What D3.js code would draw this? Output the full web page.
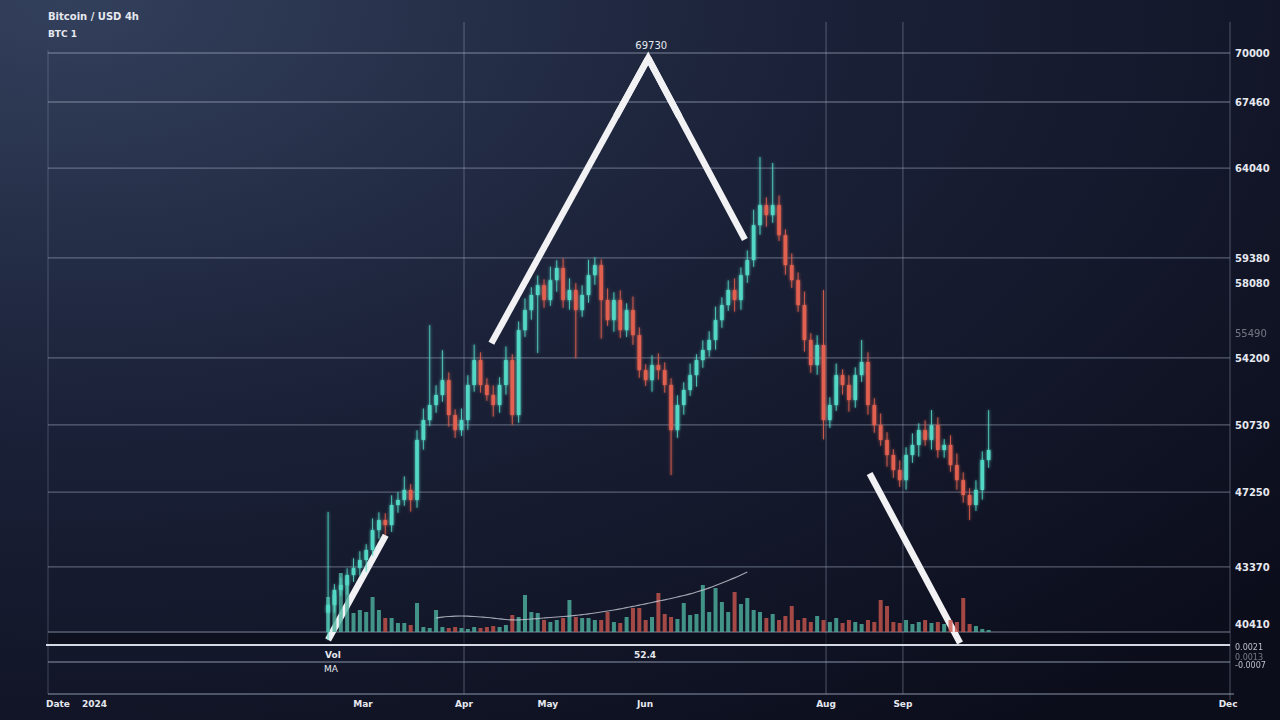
<!DOCTYPE html>
<html>
<head>
<meta charset="utf-8">
<script src="https://cdn.jsdelivr.net/npm/d3@7"></script>
<style>
  html, body { margin: 0; padding: 0; background: #0c0f1e; }
  svg { display: block; }
  text { font-family: "DejaVu Sans", sans-serif; fill: #e6e8ef; }
</style>
</head>
<body>
<div id="chart"></div>
<script>
// candle data, one value per bar (USD)
const closes = [41400, 42180, 42430, 42950, 43320,
  43730, 44250, 45280, 45800, 45540, 46580, 46840, 47360, 46840, 49950,
  50980, 51760, 52280, 53050, 51240, 50460, 50980, 52800, 54090, 52800,
  52280, 51760, 52800, 54090, 51240, 55640, 56680, 57460, 57970, 57200,
  58230, 58860, 57200, 57720, 56680, 57460, 58490, 59010, 57200, 56160,
  57200, 55640, 56680, 55380, 53570, 53050, 53830, 53570, 52800, 50460,
  51760, 52540, 53310, 54090, 54610, 55130, 56160, 56940, 57720, 57200,
  58490, 59270, 61080, 62120, 61600, 62120, 60560, 59010, 58230, 56940,
  55130, 53830, 54870, 50980, 51760, 53310, 52800, 52020, 53310, 53990,
  51760, 50720, 49950, 49170, 48390, 47870, 49170, 49690, 50460, 49950,
  50720, 49430, 49690, 48650, 47870, 47100, 46580, 47360, 48910, 49430]
const firstOpen = 41000

// wick length above the body top / below the body bottom (USD)
const wickUp = [4820,300,400,350,500, 450,300,600,400,350, 500,400,700,300,500,
  600,4140,500,1550,400, 300,600,500,800,400, 350,500,400,700,300,
  450,600,400,500,300, 700,400,500,600,350, 500,800,400,300,600,
  400,500,350,700,400, 300,500,600,400,350, 500,400,600,300,500,
  450,700,400,500,600, 400,500,800,2490,400, 2180,500,300,600,400,
  700,350,500,2850,400, 600,300,500,400,1140, 500,350,600,400,300,
  500,400,600,350,500, 780,400,300,500,600, 400,350,500,450,2070]
const wickDn = [1410,400,300,500,350, 400,600,300,450,500, 350,400,300,600,400,
  500,300,400,350,600, 400,300,500,350,400, 300,600,400,500,500,
  400,350,500,3000,400, 300,600,400,500,2500, 350,400,500,2000,300,
  600,400,350,500,400, 300,600,500,400,2330, 400,500,300,600,400,
  350,500,400,300,600, 500,400,350,500,600, 400,300,500,400,350,
  600,400,500,1000,400, 300,500,600,400,350, 500,400,300,600,400,
  350,500,400,600,300, 500,400,400,350,500, 400,780,300,500,400]

// volume per bar (k)
const volumes = [35,37,59,52,19, 22,20,35,22,14, 14,9,9,7,29, 5,4,22,5,4,
  5,4,3,5,4, 5,6,5,7,17, 15,37,20,19,12, 10,12,14,32,15,
  14,14,12,12,20, 10,9,15,24,24, 12,15,39,18,15, 13,29,17,18,47,
  20,44,30,20,40, 28,34,22,20,14, 18,12,16,26,12, 14,10,16,12,10,
  14,9,12,10,8, 12,10,32,26,10, 9,12,8,10,12, 9,10,8,12,10,
  34,8,6,3,2]

// volume moving average, starting at bar 17
const maStart = 17
const volMA = [14,15,15.5,16,16,16,15.5,15,14.5,14,13,12.5,12,12,12.5,13,13.5,14,14.5,15,
  15.5,16,16.5,17.5,18,19,20,21,22,23,24.5,25.5,27,28,29.5,31,32,33.5,35,36.5,
  38,40,42,44,46.5,49,51.5,54,57,60]

// triangle overlay (bar index, price) and the visible stretches of each leg
const triangle = [{i: 0, p: 39590}, {i: 50.4, p: 69730}, {i: 99.5, p: 39430}]
const legSpans = [[[0, 0.18], [0.51, 1]], [[0, 0.31], [0.71, 1]]]

// axis ticks
const priceTicks = [70000, 67460, 64040, 59380, 54200, 50730, 47250, 43370]
const priceLabelsOnly = [58080, 40410]
const fadedLabel = 55490
const timeTicks = [
  {i: 5.5, label: "Mar", grid: false},
  {i: 21.4, label: "Apr", grid: true},
  {i: 34.6, label: "May", grid: false},
  {i: 49.9, label: "Jun", grid: false},
  {i: 78.4, label: "Aug", grid: true},
  {i: 90.5, label: "Sep", grid: true},
  {i: 141.7, label: "Dec", grid: false}
]

const W = 1280, H = 720
const padL = 48, padR = 1230, padT = 53, paneBottom = 632

const svg = d3.select("#chart").append("svg")
  .attr("width", W).attr("height", H)

const defs = svg.append("defs")
const bg = defs.append("radialGradient").attr("id", "bg")
  .attr("cx", 0.05).attr("cy", 0).attr("r", 1.25)
bg.append("stop").attr("offset", 0).attr("stop-color", "#33405c")
bg.append("stop").attr("offset", 0.45).attr("stop-color", "#1b2239")
bg.append("stop").attr("offset", 1).attr("stop-color", "#0b0d1b")

const glow = defs.append("filter").attr("id", "glow")
  .attr("x", "-50%").attr("y", "-10%").attr("width", "200%").attr("height", "120%")
glow.append("feGaussianBlur").attr("stdDeviation", 1.6).attr("result", "b")
const merge = glow.append("feMerge")
merge.append("feMergeNode").attr("in", "b")
merge.append("feMergeNode").attr("in", "SourceGraphic")

const soft = defs.append("filter").attr("id", "soft")
soft.append("feGaussianBlur").attr("stdDeviation", 0.6)

svg.append("rect").attr("width", W).attr("height", H).attr("fill", "url(#bg)")

// scales
const x = d3.scaleLinear().domain([-44.1, 142.0]).range([padL, padR])
const y = d3.scaleLinear().domain([40000, 70000]).range([paneBottom, padT])
const yVol = d3.scaleLinear().domain([0, 100]).range([paneBottom, paneBottom - 100])

const bars = closes.map((c, i) => {
  const o = i === 0 ? firstOpen : closes[i - 1]
  return {i, o, c, h: Math.max(o, c) + wickUp[i], l: Math.min(o, c) - wickDn[i], v: volumes[i]}
})

// grid
const grid = svg.append("g").attr("stroke", "#aab3c8").attr("stroke-opacity", 0.45)
grid.selectAll("line.h").data(priceTicks).join("line")
  .attr("x1", padL).attr("x2", padR)
  .attr("y1", d => y(d)).attr("y2", d => y(d))
  .attr("stroke-width", 1.3)
grid.append("line").attr("x1", padL).attr("x2", padR)
  .attr("y1", paneBottom).attr("y2", paneBottom).attr("stroke-width", 1.3)
grid.selectAll("line.v").data(timeTicks.filter(d => d.grid)).join("line")
  .attr("x1", d => x(d.i)).attr("x2", d => x(d.i))
  .attr("y1", 22).attr("y2", 694)
  .attr("stroke-width", 1.2).attr("stroke-opacity", 0.35)
grid.append("line").attr("x1", padL).attr("x2", padL).attr("y1", 50).attr("y2", 694)
  .attr("stroke-opacity", 0.3)
grid.append("line").attr("x1", padR).attr("x2", padR).attr("y1", 22).attr("y2", 700)
  .attr("stroke-opacity", 0.4)

// lower panes
svg.append("rect").attr("x", padL).attr("y", paneBottom + 1).attr("width", padR - padL)
  .attr("height", 12).attr("fill", "#0a0c18").attr("opacity", 0.6)
svg.append("line").attr("x1", padL - 2).attr("x2", padR).attr("y1", 645).attr("y2", 645)
  .attr("stroke", "#d4d8e2").attr("stroke-width", 2.2)
svg.append("line").attr("x1", padL).attr("x2", padR).attr("y1", 662).attr("y2", 662)
  .attr("stroke", "#aab3c8").attr("stroke-opacity", 0.55).attr("stroke-width", 1.3)
svg.append("line").attr("x1", padL).attr("x2", padR + 4).attr("y1", 694).attr("y2", 694)
  .attr("stroke", "#aab3c8").attr("stroke-opacity", 0.55).attr("stroke-width", 1.3)

// triangle overlay, drawn under the candles
const along = (a, b, t) => [x(a.i + (b.i - a.i) * t), y(a.p + (b.p - a.p) * t)]
const tri = svg.append("g").attr("stroke", "#f2f2f4").attr("stroke-width", 6.5)
  .attr("fill", "none").attr("filter", "url(#soft)")
legSpans.forEach((spans, k) => {
  const a = triangle[k], b = triangle[k + 1]
  spans.forEach(([t0, t1]) => {
    const p0 = along(a, b, t0), p1 = along(a, b, t1)
    tri.append("line").attr("x1", p0[0]).attr("y1", p0[1]).attr("x2", p1[0]).attr("y2", p1[1])
  })
})
// mitred apex
tri.append("path")
  .attr("d", d3.line()([along(triangle[0], triangle[1], 0.9), along(triangle[0], triangle[1], 1),
    along(triangle[1], triangle[2], 0.1)]))
  .attr("stroke-linejoin", "miter").attr("stroke-miterlimit", 10)

const upCol = "#53d8c6", dnCol = "#e2614f"

// volume
svg.append("g").selectAll("rect").data(bars).join("rect")
  .attr("x", d => x(d.i) - 2).attr("width", 4)
  .attr("y", d => yVol(d.v)).attr("height", d => yVol(0) - yVol(d.v))
  .attr("fill", d => d.c >= d.o ? "#4fb3a0" : "#c9564d")
  .attr("opacity", 0.8)

svg.append("path")
  .datum(volMA)
  .attr("d", d3.line().x((d, k) => x(k + maStart)).y(d => yVol(d)).curve(d3.curveBasis))
  .attr("fill", "none").attr("stroke", "#c8ccd6").attr("stroke-width", 1.2).attr("opacity", 0.8)

// candles
const candles = svg.append("g").attr("filter", "url(#glow)")
candles.selectAll("line").data(bars).join("line")
  .attr("x1", d => x(d.i)).attr("x2", d => x(d.i))
  .attr("y1", d => y(d.h)).attr("y2", d => y(d.l))
  .attr("stroke", d => d.c >= d.o ? upCol : dnCol).attr("stroke-width", 1)
  .attr("stroke-opacity", 0.85)
candles.selectAll("rect").data(bars).join("rect")
  .attr("x", d => x(d.i) - 1.8).attr("width", 3.6)
  .attr("y", d => y(Math.max(d.o, d.c)))
  .attr("height", d => Math.max(1, Math.abs(y(d.o) - y(d.c))))
  .attr("fill", d => d.c >= d.o ? upCol : dnCol)

// right price labels
const fmt = d3.format("d")
const labels = svg.append("g").attr("font-size", 10).attr("font-weight", "bold")
labels.selectAll("text.p").data(priceTicks.concat(priceLabelsOnly)).join("text")
  .attr("x", 1235).attr("y", d => y(d) + 4).text(d => fmt(d))
labels.append("text").attr("x", 1235).attr("y", y(fadedLabel) + 4)
  .attr("opacity", 0.45).attr("font-weight", "normal").text(fmt(fadedLabel))
const small = svg.append("g").attr("font-size", 8).attr("opacity", 0.8)
small.append("text").attr("x", 1235).attr("y", 650).text("0.0021")
small.append("text").attr("x", 1235).attr("y", 660).attr("opacity", 0.6).text("0.0013")
small.append("text").attr("x", 1235).attr("y", 668).text("-0.0007")

// time labels
const tl = svg.append("g").attr("font-size", 9).attr("font-weight", "bold")
tl.selectAll("text").data(timeTicks).join("text")
  .attr("x", d => x(d.i)).attr("y", 707).attr("text-anchor", "middle")
  .text(d => d.label)
tl.append("text").attr("x", 46).attr("y", 707).text("Date")
tl.append("text").attr("x", 82).attr("y", 707).text("2024")

// pane captions
const cap = svg.append("g").attr("font-size", 9).attr("font-weight", "bold")
cap.append("text").attr("x", x(0) - 3).attr("y", 658).text("Vol")
cap.append("text").attr("x", x(0) - 4).attr("y", 672).attr("font-weight", "normal").text("MA")
cap.append("text").attr("x", x(49.9)).attr("y", 658).attr("text-anchor", "middle").text("52.4")

// apex label
svg.append("text").attr("x", x(triangle[1].i) + 3).attr("y", 49).attr("text-anchor", "middle")
  .attr("font-size", 10).text(fmt(triangle[1].p))

// title
svg.append("text").attr("x", 48).attr("y", 20).attr("font-size", 10).attr("font-weight", "bold")
  .text("Bitcoin / USD 4h")
svg.append("text").attr("x", 48).attr("y", 37).attr("font-size", 9).attr("font-weight", "bold")
  .text("BTC 1")
</script>
</body>
</html>
